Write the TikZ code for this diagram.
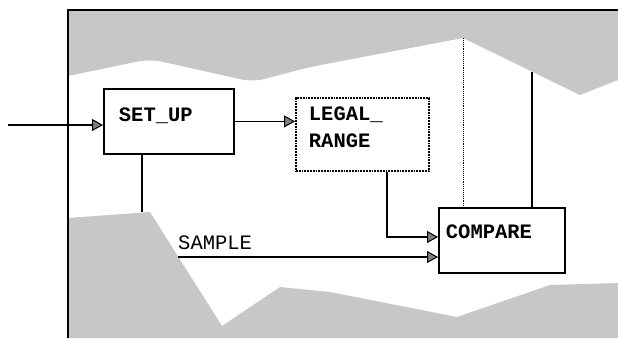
\documentclass[tikz,border=0pt]{standalone}
\usepackage{fontspec}
\setmonofont{Liberation Mono}
\usetikzlibrary{arrows.meta}
\begin{document}
\begin{tikzpicture}[x=1pt,y=-1pt,
  greyarea/.style={fill=black!22, draw=none},
  frameline/.style={line width=1.8pt},
  blk/.style={draw, line width=1.8pt, inner ysep=0pt, anchor=north west,
    font=\ttfamily\bfseries\fontsize{20.5}{27}\selectfont},
  dotblk/.style={blk, densely dotted},
  wire/.style={line width=1.5pt},
  arr/.style={wire, -{Triangle[length=11pt,width=12pt,fill=black!50,line width=1pt]}},
  lbl/.style={font=\ttfamily\fontsize{20.5}{27}\selectfont, inner sep=0pt}
]
\useasboundingbox (0,0) rectangle (618,338);

% shaded areas
\fill[greyarea] (68,10) -- (618,10) -- (618,80) -- (580,95) -- (463,38)
  [rounded corners=12pt] -- (310,67) -- (253,82) -- (150,59) [sharp corners] -- (68,76) -- cycle;
\fill[greyarea] (68,218) -- (150,212) -- (222,326) -- (280,287) -- (330,292)
  -- (457,317) -- (550,285) -- (618,283) -- (618,338) -- (68,338) -- cycle;

% frame
\draw[frameline] (68,338) -- (68,10) -- (618,10);

% blocks
\node[blk, inner xsep=15pt] (setup) at (103,88)
  {\parbox[t][65pt][t]{100pt}{\raggedright\rule{0pt}{33pt}SET\_UP}};
\node[dotblk, inner xsep=13pt] (legal) at (295,97)
  {\parbox[t][73pt][t]{107pt}{\raggedright\rule{0pt}{23pt}LEGAL\_\\RANGE}};
\node[blk, inner xsep=7pt] (compare) at (438,207)
  {\parbox[t][65pt][t]{112pt}{\raggedright\rule{0pt}{31pt}COMPARE}};

% free ends
\coordinate (in) at (8,125);
\coordinate (setupend) at (142,212);
\coordinate (lrturn) at (387,237);
\coordinate (samplestart) at (178,257);
\coordinate (dottop) at (463,38);
\coordinate (soltop) at (532,72);

% connectors
\draw[arr] (in) -- (in -| setup.west);
\draw[arr] (setup.east) -- (setup.east -| legal.west);
\draw[wire] (setup.south -| setupend) -- (setupend);
\draw[arr] (legal.south -| lrturn) -- (lrturn) -- (lrturn -| compare.west);
\draw[arr] (samplestart) -- (samplestart -| compare.west);
\draw[densely dotted, line width=0.9pt] (dottop) -- (dottop |- compare.north);
\draw[wire] (soltop) -- (soltop |- compare.north);

\node[lbl, anchor=south west] (samplelbl) at (178,250) {SAMPLE};
\end{tikzpicture}
\end{document}
